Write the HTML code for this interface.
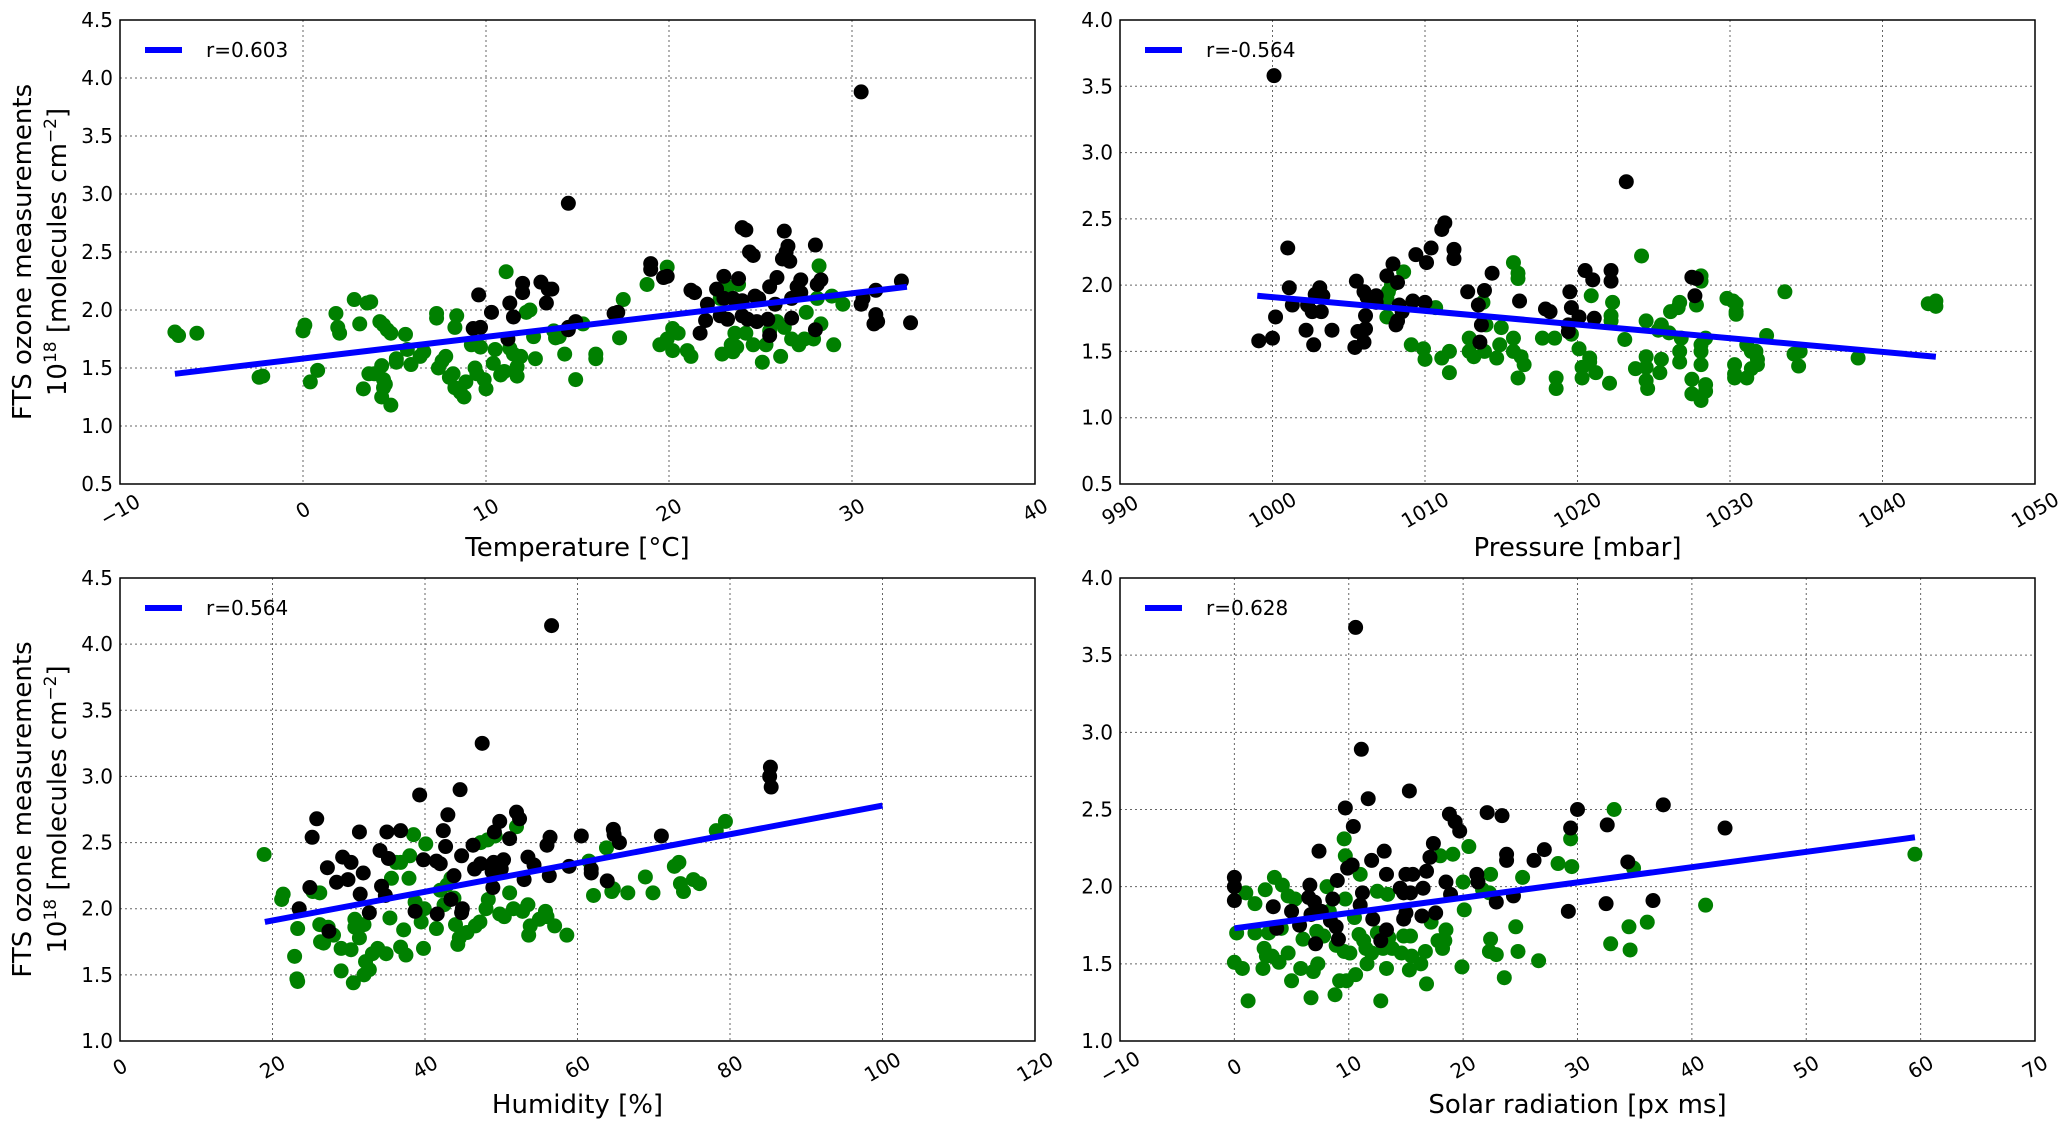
<!DOCTYPE html>
<html><head><meta charset="utf-8"><style>
html,body{margin:0;padding:0;background:#fff;}
svg{display:block;font-family:"DejaVu Sans","Liberation Sans",sans-serif;}
</style></head><body>
<svg id="fig" width="2067" height="1129" viewBox="0 0 2067 1129" xmlns="http://www.w3.org/2000/svg"></svg>
<script>
// ---- Panel 1: Temperature
const tempBlack = [[14.5,2.92],[30.5,3.88],[24,2.71],[24.2,2.69],[26.3,2.68],[28,2.56],[26.5,2.55],[26.4,2.5],[24.4,2.5],[24.6,2.47],[26.2,2.44],[26.6,2.42],[19,2.4],[19,2.35],[19.7,2.28],[19.9,2.29],[23,2.29],[23.8,2.27],[27.2,2.26],[28.3,2.26],[28.1,2.22],[27,2.2],[25.5,2.2],[25.9,2.28],[12,2.23],[13,2.24],[13.4,2.18],[13.6,2.18],[12,2.15],[21.2,2.17],[21.4,2.15],[9.6,2.13],[32.7,2.25],[31.3,2.17],[30.6,2.1],[30.5,2.05],[11.3,2.06],[13.3,2.06],[22.1,2.05],[22.6,2.18],[23,2.1],[23.5,2.1],[24,2.08],[24.7,2.12],[24.9,2.1],[25.8,2.05],[26.7,2.1],[27.2,2.15],[10.3,1.98],[11.5,1.94],[17.2,1.98],[17,1.97],[22,1.91],[22.8,1.95],[23.2,1.92],[24,1.95],[24.3,1.92],[24.8,1.9],[25.4,1.92],[26.7,1.93],[31.3,1.96],[31.4,1.9],[31.2,1.88],[33.2,1.89],[21.7,1.8],[25.5,1.78],[28,1.83],[9.3,1.84],[9.7,1.85],[14.5,1.85],[14.9,1.9],[14.5,1.83],[11.2,1.75]];
const tempGreen = [[-7,1.81],[-6.8,1.78],[-5.8,1.8],[-2.4,1.42],[-2.2,1.43],[0,1.82],[0.1,1.87],[0.4,1.38],[0.8,1.48],[1.8,1.97],[1.9,1.85],[2,1.8],[2.8,2.09],[3.1,1.88],[3.5,2.06],[3.7,2.07],[3.6,1.45],[3.9,1.45],[3.3,1.32],[4.2,1.9],[4.4,1.87],[4.6,1.83],[4.8,1.8],[4.3,1.52],[4.4,1.4],[4.5,1.36],[4.4,1.33],[4.3,1.25],[4.8,1.18],[5.1,1.55],[5.1,1.58],[5.6,1.79],[5.7,1.66],[5.9,1.53],[6.4,1.6],[6.6,1.64],[7.3,1.97],[7.3,1.93],[7.4,1.5],[7.6,1.56],[7.8,1.6],[8.0,1.42],[8.2,1.45],[8.3,1.33],[8.4,1.95],[8.3,1.85],[8.6,1.29],[8.8,1.25],[8.9,1.38],[9.2,1.7],[9.4,1.5],[9.5,1.45],[9.7,1.68],[9.9,1.4],[10.0,1.32],[10.4,1.54],[10.5,1.66],[10.8,1.44],[11,1.47],[11.1,2.33],[11.3,1.67],[11.5,1.62],[11.7,1.51],[11.7,1.43],[11.9,1.6],[12.2,1.98],[12.4,2.0],[12.6,1.77],[12.7,1.58],[13.7,1.82],[13.8,1.76],[14,1.77],[14.3,1.62],[14.9,1.4],[15.3,1.88],[16,1.62],[16,1.58],[17.3,1.76],[17.5,2.09],[18.8,2.22],[19.9,2.37],[19.5,1.7],[19.9,1.75],[20.2,1.65],[20.2,1.84],[20.5,1.8],[21,1.65],[21.2,1.6],[22.8,2.1],[23.2,2.2],[22.9,1.62],[23.4,1.7],[23.5,1.64],[23.6,1.8],[23.8,2.22],[23.7,1.68],[24.2,1.8],[24.6,1.7],[25.1,1.55],[25.3,1.7],[25.5,1.82],[25.9,1.9],[26.1,1.6],[26.3,1.85],[26.7,1.75],[27.1,1.7],[27.4,1.75],[27.9,1.75],[27.5,1.98],[28.2,2.38],[28.1,2.1],[28.3,1.88],[29.0,1.7],[29.5,2.05],[28.9,2.12]];
const tempFit = [[-7,1.45],[33,2.2]];
const tempXTicks = [-10,0,10,20,30,40];
const tempYTicks = [0.5,1.0,1.5,2.0,2.5,3.0,3.5,4.0,4.5];

// ---- Panel 2: Pressure
const presBlack = [[1000.1,3.58],[1023.2,2.78],[1011.3,2.47],[1011.1,2.42],[1010.4,2.28],[1011.9,2.27],[1001,2.28],[1009.4,2.23],[1011.9,2.2],[1010.1,2.17],[1007.9,2.16],[1014.4,2.09],[1020.5,2.11],[1022.2,2.11],[1021,2.04],[1022.2,2.03],[1027.5,2.06],[1027.8,2.05],[1007.5,2.07],[1008.2,2.02],[1001.1,1.98],[1003.1,1.98],[1005.5,2.03],[1006,1.95],[1006.2,1.91],[1012.8,1.95],[1013.9,1.96],[1019.5,1.95],[1027.7,1.92],[1002.8,1.93],[1003.3,1.92],[1009.2,1.88],[1010,1.87],[1016.2,1.88],[1006.8,1.92],[1006.8,1.87],[1001.3,1.85],[1002.3,1.85],[1002.6,1.8],[1003.2,1.8],[1013.5,1.85],[1019.6,1.83],[1008.3,1.85],[1008.5,1.8],[1008.2,1.73],[1008.1,1.7],[1017.9,1.82],[1018.2,1.8],[1020.1,1.76],[1021.1,1.75],[1006.1,1.77],[1000.2,1.76],[1013.7,1.7],[1019.4,1.7],[1019.4,1.65],[1002.2,1.66],[1003.9,1.66],[1005.6,1.65],[1006.1,1.67],[999.1,1.58],[1000,1.6],[1002.7,1.55],[1005.4,1.53],[1006,1.57],[1013.6,1.57]];
const presGreen = [[1024.2,2.22],[1015.8,2.17],[1008.6,2.1],[1016.1,2.09],[1016.1,2.05],[1028.1,2.07],[1028.1,2.03],[1007.8,2.0],[1007.6,1.95],[1007.5,1.9],[1007.5,1.76],[1033.6,1.95],[1020.9,1.92],[1029.8,1.9],[1030.2,1.88],[1030.4,1.86],[1030.4,1.8],[1030.4,1.78],[1022.3,1.87],[1026.7,1.87],[1026.6,1.83],[1027.8,1.85],[1026.1,1.8],[1043,1.86],[1043.5,1.88],[1043.5,1.84],[1013.8,1.87],[1010.7,1.83],[1022.2,1.77],[1022.2,1.73],[1024.5,1.73],[1025.5,1.7],[1025.3,1.66],[1026,1.64],[1015,1.68],[1014,1.7],[1018.5,1.6],[1019.6,1.63],[1017.7,1.6],[1023.1,1.59],[1026.8,1.6],[1028.4,1.6],[1028.1,1.55],[1032.4,1.62],[1031.7,1.5],[1012.9,1.6],[1012.9,1.5],[1013.2,1.46],[1013.9,1.5],[1014.9,1.55],[1014.7,1.45],[1015.8,1.6],[1015.8,1.5],[1016.3,1.46],[1016.5,1.4],[1009.1,1.55],[1009.9,1.52],[1010,1.44],[1011.1,1.45],[1011.6,1.5],[1011.6,1.34],[1016.1,1.3],[1018.6,1.3],[1018.6,1.22],[1020.1,1.52],[1020.3,1.38],[1020.3,1.3],[1020.8,1.45],[1020.8,1.42],[1021.2,1.34],[1022.1,1.26],[1023.8,1.37],[1024.5,1.46],[1024.5,1.38],[1024.5,1.28],[1024.6,1.22],[1025.4,1.34],[1025.5,1.44],[1026.7,1.5],[1026.7,1.42],[1027.5,1.29],[1027.5,1.18],[1028.1,1.5],[1028.1,1.4],[1028.1,1.13],[1028.4,1.25],[1028.4,1.2],[1030.3,1.4],[1030.3,1.33],[1030.3,1.3],[1031.1,1.3],[1031.4,1.37],[1031.4,1.5],[1031.8,1.4],[1031.8,1.44],[1031.1,1.55],[1034.2,1.48],[1034.5,1.39],[1034.6,1.5],[1038.4,1.45]];
const presFit = [[999,1.92],[1043.5,1.46]];
const presXTicks = [990,1000,1010,1020,1030,1040,1050];
const presYTicks = [0.5,1.0,1.5,2.0,2.5,3.0,3.5,4.0];

// ---- Panel 3: Humidity
const humBlack = [[56.6,4.14],[47.5,3.25],[85.3,3.07],[85.2,3.0],[85.4,2.92],[44.6,2.9],[39.3,2.86],[25.8,2.68],[43,2.71],[52,2.73],[52.4,2.68],[49.8,2.66],[25.2,2.54],[31.4,2.58],[35,2.58],[36.8,2.59],[42.4,2.59],[46.3,2.48],[49.1,2.58],[51.1,2.53],[56.4,2.54],[56,2.48],[60.5,2.55],[64.7,2.6],[64.8,2.56],[65.5,2.5],[71,2.55],[42.7,2.47],[34.1,2.44],[29.2,2.39],[30.3,2.35],[35.2,2.38],[39.8,2.37],[41.5,2.36],[42,2.34],[44.8,2.4],[47.3,2.34],[49,2.35],[50.3,2.37],[53.5,2.39],[54.3,2.33],[27.2,2.31],[31.9,2.27],[29.9,2.22],[28.4,2.2],[46.5,2.3],[48.8,2.28],[50,2.3],[56.3,2.25],[58.9,2.32],[61.8,2.3],[61.8,2.27],[63.9,2.21],[53,2.22],[43.8,2.25],[24.9,2.16],[34.3,2.17],[34.8,2.1],[31.5,2.11],[48.9,2.16],[43.4,2.07],[23.5,2.0],[32.7,1.97],[38.7,1.98],[41.6,1.96],[44.9,2.0],[44.8,1.97],[27.4,1.83]];
const humGreen = [[18.9,2.41],[21.2,2.07],[21.4,2.11],[23.3,1.85],[22.9,1.64],[23.2,1.47],[23.3,1.45],[25.3,2.13],[26.2,2.12],[26.2,1.88],[26.3,1.75],[26.7,1.74],[27.3,1.86],[28,1.8],[29,1.7],[29,1.53],[30.3,1.69],[30.6,1.44],[30.8,1.92],[30.8,1.86],[31.4,1.78],[32,1.88],[32.2,1.6],[32,1.5],[32.7,1.54],[33.1,1.66],[33.8,1.7],[34.9,1.66],[35.4,1.93],[35.6,2.23],[36.2,2.35],[36.8,2.35],[36.8,1.71],[37.2,1.84],[37.5,1.65],[37.9,2.23],[38,2.4],[38.5,2.56],[38.7,2.05],[39.5,1.9],[39.8,1.7],[40.1,2.49],[39.9,2.0],[41.5,1.85],[42,2.14],[42.5,2.03],[42.9,2.18],[43.4,2.23],[43.8,2.08],[44,1.88],[44.3,1.73],[44.5,1.78],[45.5,1.82],[46.6,1.87],[47.3,2.5],[47.2,1.9],[48,2.0],[48.3,2.07],[48.2,2.52],[49.2,2.55],[49.8,1.96],[50.4,1.94],[51.1,2.12],[51.6,2.0],[52,2.62],[52.8,1.98],[53.5,2.03],[53.6,1.8],[53.8,1.87],[55,1.92],[55.8,1.98],[56,1.94],[57,1.87],[58.6,1.8],[61.5,2.36],[62.1,2.1],[63.8,2.46],[64.7,2.15],[64.5,2.13],[66.6,2.12],[68.9,2.24],[69.9,2.12],[72.7,2.32],[73.3,2.35],[73.5,2.19],[73.9,2.13],[75.2,2.22],[76,2.19],[78.2,2.59],[79.4,2.66]];
const humFit = [[19,1.9],[100,2.78]];
const humXTicks = [0,20,40,60,80,100,120];
const humYTicks = [1.0,1.5,2.0,2.5,3.0,3.5,4.0,4.5];

// ---- Panel 4: Solar radiation
const solBlack = [[10.6,3.68],[11.1,2.89],[15.3,2.62],[11.7,2.57],[9.7,2.51],[30,2.5],[37.5,2.53],[22.1,2.48],[23.4,2.46],[18.8,2.47],[19.3,2.42],[10.4,2.39],[29.4,2.38],[32.6,2.4],[42.9,2.38],[19.7,2.36],[17.4,2.28],[7.4,2.23],[13.1,2.23],[23.8,2.21],[27.1,2.24],[17.1,2.19],[12,2.17],[26.2,2.17],[23.8,2.17],[34.4,2.16],[10.3,2.14],[9.9,2.12],[16.8,2.1],[13.3,2.08],[15,2.08],[15.6,2.08],[21.2,2.08],[21.3,2.03],[18.5,2.03],[9,2.04],[0,2.06],[0,2.0],[6.6,2.01],[14.5,1.99],[14.8,1.96],[15.4,1.96],[16.5,1.99],[11.2,1.96],[6.5,1.93],[7,1.9],[8.6,1.92],[18.9,1.95],[24.4,1.94],[0,1.91],[3.4,1.87],[5,1.84],[11,1.88],[7.6,1.84],[22.9,1.9],[32.5,1.89],[36.6,1.91],[29.2,1.84],[15,1.83],[16.4,1.81],[17.6,1.83],[6.7,1.82],[8.4,1.78],[12.1,1.79],[14.8,1.79],[5.7,1.75],[8.9,1.74],[3.7,1.73],[13.3,1.72],[9.1,1.66],[12.8,1.65],[7.1,1.63]];
const solGreen = [[59.5,2.21],[33.2,2.5],[9.6,2.31],[29.4,2.31],[20.5,2.26],[9.7,2.2],[18,2.2],[19.1,2.21],[11,2.08],[22.4,2.08],[28.3,2.15],[29.5,2.13],[34.9,2.12],[25.2,2.06],[3.5,2.06],[4.2,2.01],[8.1,2.0],[2.7,1.98],[1,1.96],[4.7,1.94],[9.7,1.92],[12.5,1.97],[13.4,1.95],[21.7,1.98],[22.3,1.96],[20,2.03],[20.1,1.85],[41.2,1.88],[1.8,1.89],[5.3,1.92],[10.5,1.8],[17.2,1.77],[8.3,1.84],[36.1,1.77],[34.5,1.74],[24.6,1.74],[18.5,1.72],[0.2,1.7],[1.8,1.7],[3,1.7],[4.1,1.73],[7.2,1.71],[7.8,1.68],[8.9,1.62],[10.9,1.69],[11.3,1.65],[12.5,1.7],[13.5,1.67],[14.8,1.68],[15.4,1.68],[17.8,1.65],[18.4,1.65],[18.2,1.6],[6,1.66],[2.6,1.6],[2.8,1.55],[3.3,1.55],[4.7,1.57],[11.5,1.6],[12,1.57],[13,1.6],[13.8,1.6],[14.6,1.57],[15.5,1.55],[16.7,1.58],[9.6,1.58],[10.1,1.57],[22.4,1.66],[22.3,1.58],[22.9,1.56],[24.8,1.58],[26.6,1.52],[32.9,1.63],[34.6,1.59],[0,1.51],[0.7,1.47],[2.5,1.47],[3.9,1.51],[5.8,1.47],[6.9,1.45],[7.3,1.5],[11.6,1.5],[13.3,1.47],[15.3,1.46],[16.3,1.5],[19.9,1.48],[5,1.39],[9.2,1.39],[9.8,1.39],[10.6,1.43],[16.8,1.37],[23.6,1.41],[1.2,1.26],[6.7,1.28],[8.8,1.3],[12.8,1.26]];
const solFit = [[0,1.73],[59.5,2.32]];
const solXTicks = [-10,0,10,20,30,40,50,60,70];
const solYTicks = [1.0,1.5,2.0,2.5,3.0,3.5,4.0];

const rLabels = ["r=0.603","r=-0.564","r=0.564","r=0.628"];
const xTitles = ["Temperature [°C]","Pressure [mbar]","Humidity [%]","Solar radiation [px  ms]"];

const NS = "http://www.w3.org/2000/svg";
const svg = document.getElementById('fig');
function mk(tag, attrs, parent){
  const e = document.createElementNS(NS, tag);
  for (const k in attrs) e.setAttribute(k, attrs[k]);
  (parent||svg).appendChild(e);
  return e;
}
function fmt(v, dec){ const s = v.toFixed(dec); return s.replace('-', '\u2212'); }

const panels = [
  {key:'temperature', L:120,R:1035,T:20,B:484, xt:tempXTicks, yt:tempYTicks, blk:tempBlack, grn:tempGreen, fit:tempFit, ylab:true},
  {key:'pressure', L:1120,R:2035,T:20,B:484, xt:presXTicks, yt:presYTicks, blk:presBlack, grn:presGreen, fit:presFit, ylab:false},
  {key:'humidity', L:120,R:1035,T:578,B:1041, xt:humXTicks, yt:humYTicks, blk:humBlack, grn:humGreen, fit:humFit, ylab:true},
  {key:'solar', L:1120,R:2035,T:578,B:1041, xt:solXTicks, yt:solYTicks, blk:solBlack, grn:solGreen, fit:solFit, ylab:false}
];

panels.forEach((p, i) => {
  const g = mk('g', {});
  
  
  const x0 = p.xt[0], x1 = p.xt[p.xt.length-1];
  const y0 = p.yt[0], y1 = p.yt[p.yt.length-1];
  const sx = v => p.L + (v - x0) / (x1 - x0) * (p.R - p.L);
  const sy = v => p.B - (v - y0) / (y1 - y0) * (p.B - p.T);

  // grid
  p.xt.forEach(t => {
    const x = sx(t);
    if (t !== x0 && t !== x1) {
      const l = mk('line', {x1:x, x2:x, y1:p.T, y2:p.B, stroke:'#666', 'stroke-width':1, 'stroke-dasharray':'2,3'}, g);
      
      
    }
    const lab = mk('text', {x:x, y:p.B+26, 'font-size':20, 'text-anchor':'middle', 'dominant-baseline':'central', fill:'#000', transform:`rotate(-30 ${x} ${p.B+26})`}, g);
    lab.textContent = fmt(t, 0);
    
    
  });
  p.yt.forEach(t => {
    const y = sy(t);
    if (t !== y0 && t !== y1) {
      const l = mk('line', {x1:p.L, x2:p.R, y1:y, y2:y, stroke:'#666', 'stroke-width':1, 'stroke-dasharray':'2,3'}, g);
      
      
    }
    const lab = mk('text', {x:p.L-7, y:y+7, 'font-size':20, 'text-anchor':'end', fill:'#000'}, g);
    lab.textContent = t.toFixed(1);
    
    
  });

  // points
  p.grn.forEach(d => {
    const c = mk('ellipse', {cx:sx(d[0]), cy:sy(d[1]), rx:7.5, ry:7.5, fill:'#008000'}, g);
    
    
  });
  p.blk.forEach(d => {
    const c = mk('ellipse', {cx:sx(d[0]), cy:sy(d[1]), rx:7.5, ry:7.5, fill:'#000'}, g);
    
    
  });
  // fit line
  const fl = mk('line', {x1:sx(p.fit[0][0]), y1:sy(p.fit[0][1]), x2:sx(p.fit[1][0]), y2:sy(p.fit[1][1]), stroke:'#0000ff', 'stroke-width':6}, g);
  
  

  // frame
  const fr = mk('rect', {x:p.L, y:p.T, width:p.R-p.L, height:p.B-p.T, fill:'none', stroke:'#000', 'stroke-width':1.5}, g);
  
  

  // legend
  const lg = mk('g', {}, g);
  
  
  mk('line', {x1:p.L+25, x2:p.L+62, y1:p.T+30, y2:p.T+30, stroke:'#0000ff', 'stroke-width':6}, lg);
  const lt = mk('text', {x:p.L+86, y:p.T+37, 'font-size':20, fill:'#000'}, lg);
  lt.textContent = rLabels[i];
  
  

  // x title
  const xtl = mk('text', {x:(p.L+p.R)/2, y:p.B+72, 'font-size':26, 'text-anchor':'middle', fill:'#000'}, g);
  xtl.textContent = xTitles[i];
  
  

  if (p.ylab) {
    const cy = (p.T + p.B) / 2;
    const t1 = mk('text', {x:31, y:cy, 'font-size':26, 'text-anchor':'middle', fill:'#000', transform:`rotate(-90 31 ${cy})`}, g);
    t1.textContent = 'FTS  ozone measurements';
    
    
    const t2 = mk('text', {x:66, y:cy, 'font-size':26, 'text-anchor':'middle', fill:'#000', transform:`rotate(-90 66 ${cy})`}, g);
    t2.innerHTML = '10<tspan dy="-10" font-size="17">18</tspan><tspan dy="10"> [molecules  cm</tspan><tspan dy="-10" font-size="17">\u22122</tspan><tspan dy="10">]</tspan>';
    
    
  }
});
</script>
</body></html>
